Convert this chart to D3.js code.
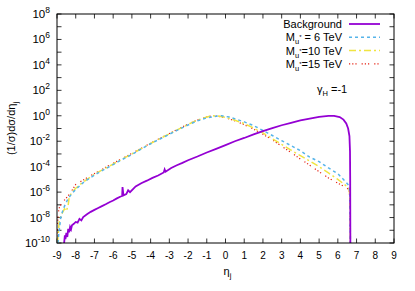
<!DOCTYPE html>
<html>
<head>
<meta charset="utf-8">
<script src="https://cdn.jsdelivr.net/npm/d3@7"></script>
<style>
  body { margin: 0; background: #fff; }
  text { font-family: "Liberation Sans", Arial, sans-serif; fill: #000; }
</style>
</head>
<body>
<div id="vis"></div>
<script>
// values (eta, (1/sigma) dsigma/deta)
var bgEta = [-8.62, -8.58, -8.55, -8.5, -8.45, -8.4, -8.35, -8.3, -8.25, -8.2, -8.1, -8.0, -7.9, -7.8, -7.7, -7.6, -7.4, -7.2, -7.0, -6.8, -6.6, -6.4, -6.2, -6.0, -5.8, -5.6, -5.52, -5.5, -5.45, -5.3, -5.2, -5.1, -4.8, -4.5, -4.2, -3.9, -3.6, -3.3, -3.25, -3.2, -2.9, -2.6, -2.3, -2.0, -1.5, -1.0, -0.5, 0, 0.5, 1.0, 1.5, 2.0, 2.5, 3.0, 3.5, 4.0, 4.5, 5.0, 5.5, 5.8, 6.1, 6.3, 6.45, 6.55, 6.62, 6.65, 6.66, 6.67];
var bgVal = [1e-10, 4e-10, 2e-10, 6.3e-10, 3e-10, 1.3e-9, 7e-10, 1.8e-9, 1.2e-9, 2.5e-9, 3.2e-9, 4.5e-9, 4e-9, 7.9e-9, 6e-9, 1.1e-8, 1.8e-8, 2.8e-8, 4e-8, 5.6e-8, 7.9e-8, 1.1e-7, 1.6e-7, 2.2e-7, 3.2e-7, 4.5e-7, 5e-7, 2.5e-6, 5.6e-7, 7e-7, 1.4e-6, 1e-6, 2.8e-6, 5e-6, 7.9e-6, 1.3e-5, 2e-5, 3.5e-5, 6e-5, 4e-5, 7.9e-5, 1.3e-4, 2e-4, 3.2e-4, 6.3e-4, 1.3e-3, 2.5e-3, 5e-3, 1e-2, 1.8e-2, 3.5e-2, 6.3e-2, 0.105, 0.18, 0.28, 0.43, 0.6, 0.83, 1.0, 1.0, 0.8, 0.5, 0.25, 0.1, 0.025, 1.6e-3, 1e-5, 1e-10];

var m6Eta = [-8.95, -8.9, -8.85, -8.8, -8.7, -8.6, -8.5, -8.4, -8.2, -8.0, -7.6, -7.2, -6.7, -6.2, -5.6, -5.0, -4.5, -4.0, -3.5, -3.0, -2.5, -2.0, -1.5, -1.0, -0.5, -0.2, 0.2, 0.6, 1.0, 1.5, 2.0, 2.5, 3.0, 3.5, 4.0, 4.5, 5.0, 5.5, 6.0, 6.4, 6.6, 6.64, 6.66, 6.67];
var m6Val = [1e-10, 6.3e-10, 2.5e-9, 1e-8, 3.2e-8, 7.9e-8, 1.6e-7, 3.2e-7, 7.9e-7, 1.6e-6, 5.6e-6, 1.4e-5, 4e-5, 1e-4, 3.2e-4, 8.9e-4, 2.5e-3, 6.3e-3, 1.5e-2, 3.5e-2, 8.3e-2, 0.19, 0.4, 0.69, 0.93, 1.0, 0.79, 0.52, 0.33, 0.17, 7e-2, 2.8e-2, 1.1e-2, 4.5e-3, 1.8e-3, 5.6e-4, 2.5e-4, 7.9e-5, 2.8e-5, 7e-6, 3.2e-6, 1e-6, 1e-8, 1e-10];

var m10Eta = [-8.97, -8.92, -8.88, -8.8, -8.7, -8.6, -8.5, -8.4, -8.35, -8.2, -8.0, -7.6, -7.2, -6.7, -6.2, -5.6, -5.0, -4.5, -4.0, -3.5, -3.0, -2.5, -2.0, -1.5, -1.0, -0.7, -0.4, 0, 0.5, 1.0, 1.5, 2.0, 2.5, 3.0, 3.5, 4.0, 4.5, 5.0, 5.5, 6.0, 6.4, 6.6, 6.64, 6.66, 6.67];
var m10Val = [1e-10, 1e-9, 5e-9, 1.3e-8, 2.5e-8, 5e-8, 3.2e-8, 1e-7, 4e-7, 1e-6, 2e-6, 6.3e-6, 1.6e-5, 4.5e-5, 1.1e-4, 3.4e-4, 1e-3, 2.6e-3, 6.6e-3, 1.6e-2, 3.8e-2, 8.9e-2, 0.21, 0.45, 0.79, 1.0, 0.95, 0.76, 0.45, 0.24, 0.11, 4.5e-2, 1.6e-2, 5.6e-3, 2e-3, 7.4e-4, 2.8e-4, 1e-4, 3.2e-5, 1e-5, 3.5e-6, 2e-6, 5e-7, 1e-8, 1e-10];

var m15Eta = [-9.0, -8.95, -8.9, -8.8, -8.7, -8.5, -8.3, -8.0, -7.6, -7.2, -6.7, -6.2, -5.6, -5.0, -4.5, -4.0, -3.5, -3.0, -2.5, -2.0, -1.5, -1.0, -0.7, -0.4, 0, 0.5, 1.0, 1.5, 2.0, 2.5, 3.0, 3.5, 4.0, 4.5, 5.0, 5.5, 6.0, 6.4, 6.6, 6.64, 6.66, 6.67];
var m15Val = [3.2e-10, 1e-8, 5e-8, 1e-7, 1.6e-7, 3.5e-7, 7.9e-7, 4e-6, 8.9e-6, 2e-5, 5e-5, 1.3e-4, 3.8e-4, 1.1e-3, 2.8e-3, 7e-3, 1.7e-2, 4e-2, 9.5e-2, 0.22, 0.47, 0.83, 1.0, 0.93, 0.71, 0.4, 0.2, 8.9e-2, 3.5e-2, 1.3e-2, 4e-3, 1.3e-3, 4e-4, 1.3e-4, 4e-5, 1.3e-5, 5e-6, 2.5e-6, 1.6e-6, 3.2e-7, 1e-8, 1e-10];

// legend: [main, subscript, superscript, rest]
var legendLabels = [["Background", "", "", ""], ["M", "u", "*", " = 6 TeV"], ["M", "u", "*", "=10 TeV"], ["M", "u", "*", "=15 TeV"]];
var xTicks = d3.range(-9, 10, 1);
var yLabelExp = [-10, -8, -6, -4, -2, 0, 2, 4, 6, 8];
var yTickExp = d3.range(-10, 9, 1);

var width = 415, height = 291;
var margin = {top: 14, right: 21, bottom: 48, left: 57};
var plotW = width - margin.left - margin.right,
    plotH = height - margin.top - margin.bottom;

var svg = d3.select("#vis").append("svg")
    .attr("width", width)
    .attr("height", height);

var x = d3.scaleLinear().domain([-9, 9]).range([0, plotW]);
var y = d3.scaleLog().domain([1e-10, 1e8]).range([plotH, 0]);

var graph = svg.append("g")
    .attr("transform", "translate(" + margin.left + "," + margin.top + ")");

graph.append("clipPath").attr("id", "clip")
  .append("rect").attr("width", plotW).attr("height", plotH);

// ticks (inward, mirrored like gnuplot)
var tickLen = 4.5;
xTicks.forEach(function(t) {
  graph.append("line").attr("x1", x(t)).attr("x2", x(t)).attr("y1", plotH).attr("y2", plotH - tickLen)
    .attr("stroke", "#000").attr("stroke-width", 0.8);
  graph.append("line").attr("x1", x(t)).attr("x2", x(t)).attr("y1", 0).attr("y2", tickLen)
    .attr("stroke", "#000").attr("stroke-width", 0.8);
  graph.append("text").attr("x", x(t)).attr("y", plotH + 16)
    .attr("text-anchor", "middle").attr("font-size", "10px").text(t);
});
yTickExp.forEach(function(e) {
  var yy = y(Math.pow(10, e));
  graph.append("line").attr("x1", 0).attr("x2", tickLen).attr("y1", yy).attr("y2", yy)
    .attr("stroke", "#000").attr("stroke-width", 0.8);
  graph.append("line").attr("x1", plotW).attr("x2", plotW - tickLen).attr("y1", yy).attr("y2", yy)
    .attr("stroke", "#000").attr("stroke-width", 0.8);
});
yLabelExp.forEach(function(e) {
  var t = graph.append("text").attr("x", -7).attr("y", y(Math.pow(10, e)) + 4)
    .attr("text-anchor", "end").attr("font-size", "11.5px");
  t.append("tspan").text("10");
  t.append("tspan").attr("dy", -5).attr("font-size", "8.5px").text(e);
});

// curves
var line = d3.line()
  .x(function(d) { return x(d[0]); })
  .y(function(d) { return y(d[1]); });

var series = [
  {eta: bgEta, val: bgVal, color: "#9400D3", width: 1.8, dash: null},
  {eta: m6Eta, val: m6Val, color: "#56B4E9", width: 1.5, dash: "3,3"},
  {eta: m10Eta, val: m10Val, color: "#F0E442", width: 1.5, dash: "7,3,2,3"},
  {eta: m15Eta, val: m15Val, color: "#E51E10", width: 1.2, dash: "1.2,2,1.2,2,1.2,5"}
];

var curves = graph.append("g").attr("clip-path", "url(#clip)");
series.slice().reverse().forEach(function(s) {
  curves.append("path")
    .datum(d3.zip(s.eta, s.val))
    .attr("fill", "none")
    .attr("stroke", s.color)
    .attr("stroke-width", s.width)
    .attr("stroke-dasharray", s.dash)
    .attr("d", line);
});

// border
graph.append("rect").attr("width", plotW).attr("height", plotH)
  .attr("fill", "none").attr("stroke", "#000").attr("stroke-width", 1);

// legend
var legend = graph.append("g");
series.forEach(function(s, i) {
  var ly = 10 + i * 13.3;
  var lab = legendLabels[i];
  var txt = legend.append("text").attr("x", 285).attr("y", ly + 4)
    .attr("text-anchor", "end").attr("font-size", "11px");
  txt.append("tspan").text(lab[0]);
  if (lab[1]) {
    txt.append("tspan").attr("dy", 3).attr("font-size", "7.5px").text(lab[1]);
    txt.append("tspan").attr("dy", -5).attr("font-size", "6px").text(lab[2]);
    txt.append("tspan").attr("dy", 2).text(lab[3]);
  }
  legend.append("line").attr("x1", 292).attr("x2", 323).attr("y1", ly).attr("y2", ly)
    .attr("stroke", s.color).attr("stroke-width", s.width)
    .attr("stroke-dasharray", s.dash);
});

var gam = graph.append("text").attr("x", 260).attr("y", 79).attr("font-size", "11px");
gam.append("tspan").text("\u03b3");
gam.append("tspan").attr("dy", 3).attr("font-size", "7.5px").text("H");
gam.append("tspan").attr("dy", -3).text(" =-1");

// axis titles
var xl = svg.append("text").attr("x", margin.left + x(0) - 2).attr("y", 275).attr("font-size", "11px");
xl.append("tspan").text("\u03b7");
xl.append("tspan").attr("dy", 3).attr("font-size", "7.5px").text("j");

var yl = svg.append("text")
  .attr("transform", "translate(15," + (margin.top + plotH / 2) + ") rotate(-90)")
  .attr("text-anchor", "middle").attr("font-size", "11px");
yl.append("tspan").text("(1/\u03c3)d\u03c3/d\u03b7");
yl.append("tspan").attr("dy", 3).attr("font-size", "7.5px").text("j");
</script>
</body>
</html>
